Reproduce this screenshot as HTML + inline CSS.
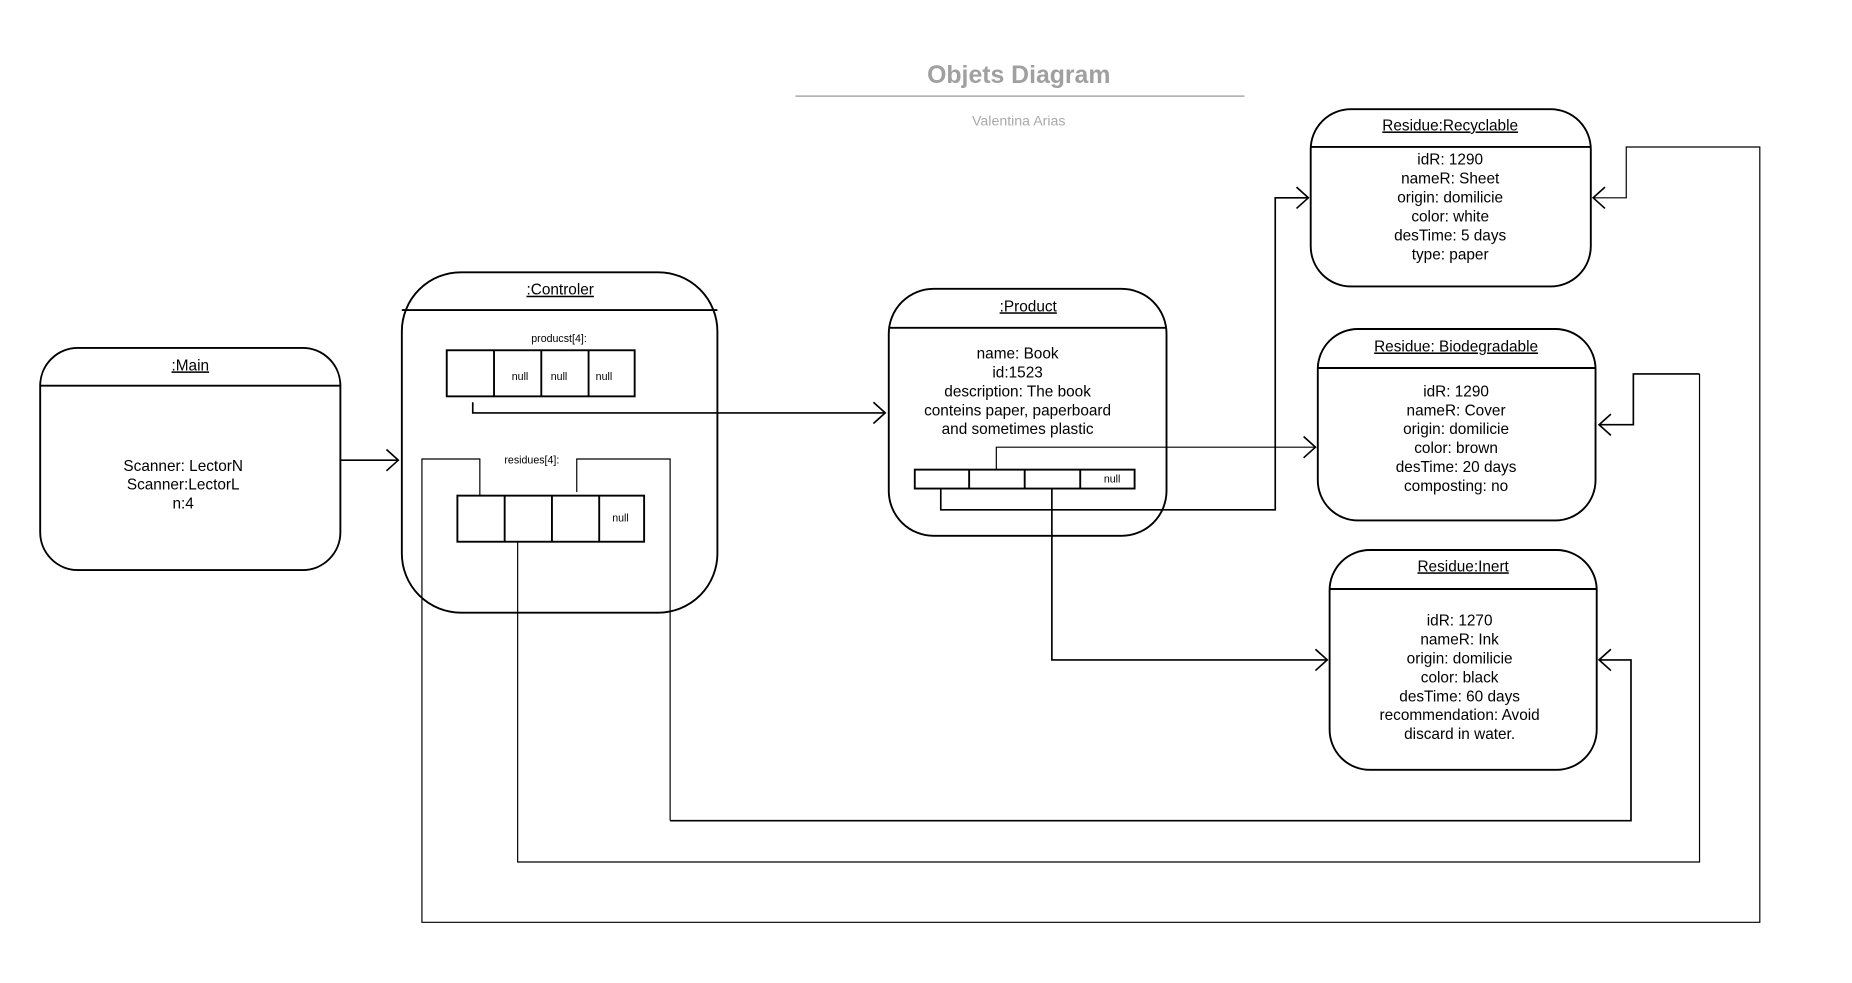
<!DOCTYPE html>
<html><head><meta charset="utf-8"><style>
html,body{margin:0;padding:0;background:#fff;}
svg{display:block;}
text{font-family:"Liberation Sans",Arial,sans-serif;}
</style></head><body>
<svg width="1852" height="983" viewBox="0 0 1567 831" xmlns="http://www.w3.org/2000/svg">
<rect width="1567" height="831" fill="#fff"/>
<text x="862" y="70" text-anchor="middle" font-size="21" font-weight="bold" fill="#a0a0a0">Objets Diagram</text>
<line x1="673" y1="81" x2="1053" y2="81" stroke="#aaa" stroke-width="1.3"/>
<text x="862" y="106" text-anchor="middle" font-size="12" fill="#aaa">Valentina Arias</text>

<g fill="none" stroke="#000" stroke-width="1.6">
<rect x="34" y="294" width="254" height="188" rx="32"/>
<line x1="34" y1="326" x2="288" y2="326"/>
<rect x="340" y="230" width="267" height="288" rx="50"/>
<line x1="340" y1="262" x2="607" y2="262"/>
<rect x="752" y="244" width="235" height="209" rx="38"/>
<line x1="752" y1="277" x2="987" y2="277"/>
<rect x="1109" y="92" width="237" height="150" rx="34"/>
<line x1="1109" y1="124" x2="1346" y2="124"/>
<rect x="1115" y="278" width="235" height="162" rx="34"/>
<line x1="1115" y1="311" x2="1350" y2="311"/>
<rect x="1125" y="465" width="226" height="186" rx="34"/>
<line x1="1125" y1="498" x2="1351" y2="498"/>
<rect x="378" y="296" width="159" height="39"/>
<line x1="418" y1="296" x2="418" y2="335"/><line x1="458" y1="296" x2="458" y2="335"/><line x1="498" y1="296" x2="498" y2="335"/>
<rect x="387" y="419" width="158" height="39"/>
<line x1="427" y1="419" x2="427" y2="458"/><line x1="467" y1="419" x2="467" y2="458"/><line x1="507" y1="419" x2="507" y2="458"/>
<rect x="774" y="397" width="186" height="16"/>
<line x1="820" y1="397" x2="820" y2="413"/><line x1="867" y1="397" x2="867" y2="413"/><line x1="914" y1="397" x2="914" y2="413"/>
</g>

<g fill="none" stroke="#000" stroke-width="1.4">
<polyline points="288,389 337,389"/>
<polyline points="327,380 337,389 327,398"/>
<polyline points="400,340 400,349 749,349"/>
<polyline points="739,340 749,349 739,358"/>
<polyline points="796,413 796,431 1079,431 1079,167 1107,167"/>
<polyline points="1097,158 1107,167 1097,176"/>
<polyline stroke-width="1" points="843,397 843,378 1113,378"/>
<polyline points="1103,369 1113,378 1103,387"/>
<polyline points="890,413 890,558 1123,558"/>
<polyline points="1113,549 1123,558 1113,567"/>
<polyline stroke-width="1" points="406,419 406,388 357,388 357,780 1489,780 1489,124 1376,124 1376,167 1348,167"/>
<polyline points="1358,158 1348,167 1358,176"/>
<polyline stroke-width="1" points="488,416 488,388 567,388 567,694"/>
<polyline points="567,694 1380,694 1380,558 1353,558"/>
<polyline points="1363,549 1353,558 1363,567"/>
<polyline stroke-width="1" points="438,458 438,729 1438,729 1438,316"/>
<polyline points="1438,316 1382,316 1382,359 1353,359"/>
<polyline points="1363,350 1353,359 1363,368"/>
</g>

<g font-size="13" fill="#000" text-anchor="middle">
<text x="161" y="313" text-decoration="underline">:Main</text>
<text x="155" y="398">Scanner: LectorN</text>
<text x="155" y="414">Scanner:LectorL</text>
<text x="155" y="430">n:4</text>
<text x="474" y="249" text-decoration="underline">:Controler</text>
<text x="870" y="263" text-decoration="underline">:Product</text>
<text x="861" y="303">name: Book</text>
<text x="861" y="319">id:1523</text>
<text x="861" y="335">description: The book</text>
<text x="861" y="351">conteins paper, paperboard</text>
<text x="861" y="367">and sometimes plastic</text>
<text x="1227" y="110" text-decoration="underline">Residue:Recyclable</text>
<text x="1227" y="139">idR: 1290</text>
<text x="1227" y="155">nameR: Sheet</text>
<text x="1227" y="171">origin: domilicie</text>
<text x="1227" y="187">color: white</text>
<text x="1227" y="203">desTime: 5 days</text>
<text x="1227" y="219">type: paper</text>
<text x="1232" y="297" text-decoration="underline">Residue: Biodegradable</text>
<text x="1232" y="335">idR: 1290</text>
<text x="1232" y="351">nameR: Cover</text>
<text x="1232" y="367">origin: domilicie</text>
<text x="1232" y="383">color: brown</text>
<text x="1232" y="399">desTime: 20 days</text>
<text x="1232" y="415">composting: no</text>
<text x="1238" y="483" text-decoration="underline">Residue:Inert</text>
<text x="1235" y="529">idR: 1270</text>
<text x="1235" y="545">nameR: Ink</text>
<text x="1235" y="561">origin: domilicie</text>
<text x="1235" y="577">color: black</text>
<text x="1235" y="593">desTime: 60 days</text>
<text x="1235" y="609">recommendation: Avoid</text>
<text x="1235" y="625">discard in water.</text>
</g>
<g font-size="9" fill="#000" text-anchor="middle">
<text x="473" y="289">producst[4]:</text>
<text x="440" y="321">null</text>
<text x="473" y="321">null</text>
<text x="511" y="321">null</text>
<text x="450" y="392">residues[4]:</text>
<text x="525" y="441">null</text>
<text x="941" y="408">null</text>
</g>
</svg>
</body></html>
